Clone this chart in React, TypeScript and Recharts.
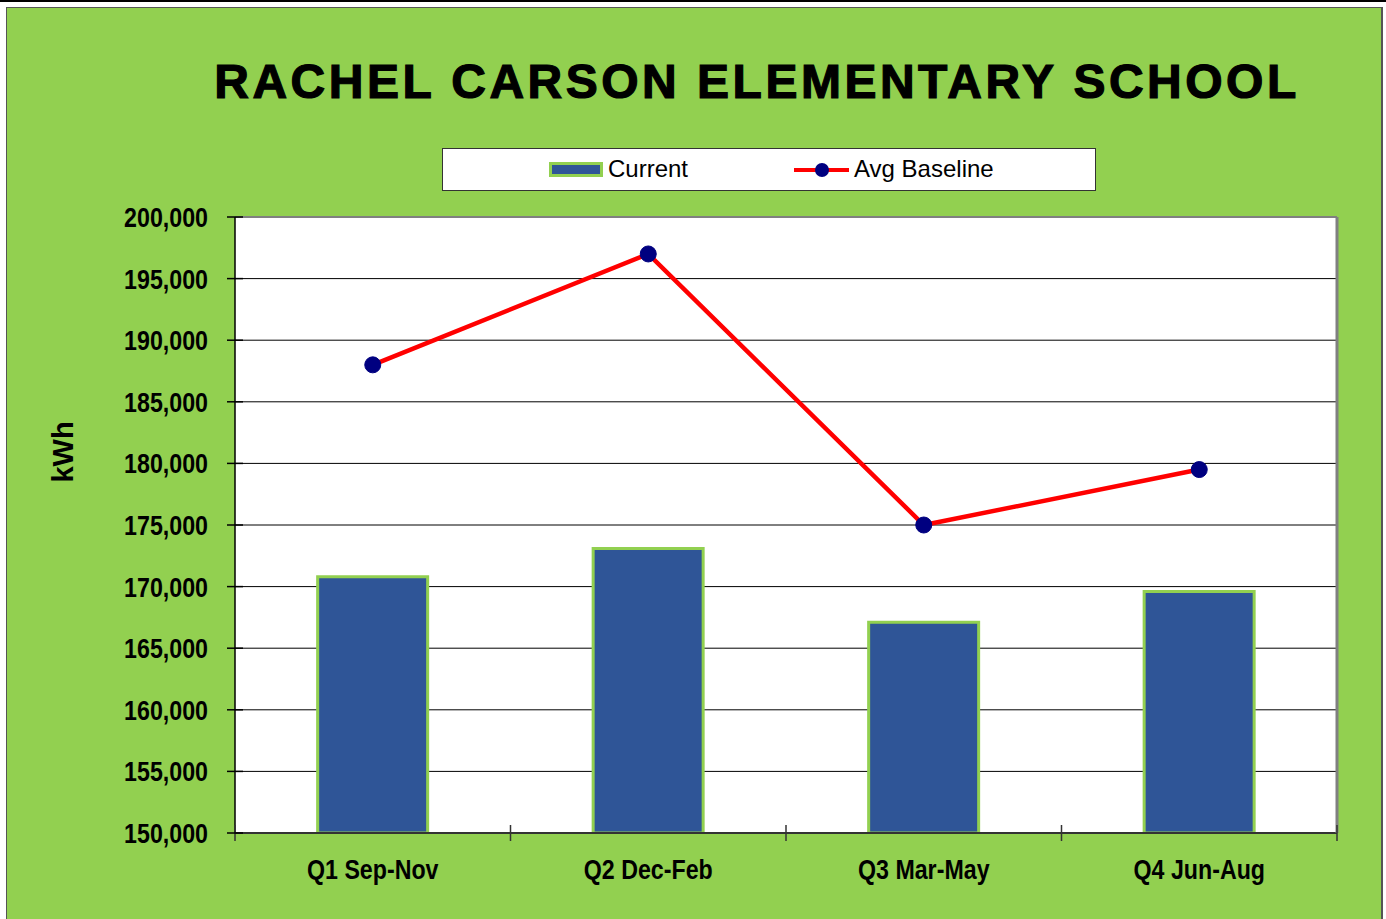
import { Bar, CartesianGrid, ComposedChart, Line, XAxis, YAxis } from 'recharts';

const categories = ['Q1 Sep-Nov', 'Q2 Dec-Feb', 'Q3 Mar-May', 'Q4 Jun-Aug'];
const currentValues = [170800, 173100, 167100, 169600];
const baselineValues = [188000, 197000, 175000, 179500];
const yTicks = [150000, 155000, 160000, 165000, 170000, 175000, 180000, 185000, 190000, 195000, 200000];

const chartData = categories.map((name, i) => ({
  name,
  current: currentValues[i],
  baseline: baselineValues[i],
}));

const tickFont = '"Liberation Sans", Arial, sans-serif';

function YTick(props: any) {
  const { x, y, payload } = props;
  return (
    <g>
      <line x1={x - 8} x2={x + 8} y1={y} y2={y} stroke="#000" strokeWidth={1.5} />
      <text
        transform={`translate(${x - 27},${y + 10}) scale(0.86,1)`}
        textAnchor="end"
        fontFamily={tickFont}
        fontWeight="bold"
        fontSize={27}
        fill="#000"
      >
        {Number(payload.value).toLocaleString('en-US')}
      </text>
    </g>
  );
}

function XTick(props: any) {
  const { x, y, payload, index } = props;
  const half = payload.offset ?? 0;
  return (
    <g>
      <line x1={x - half} x2={x - half} y1={y - 8} y2={y + 8} stroke="#333" strokeWidth={1.5} />
      {index === categories.length - 1 && (
        <line x1={x + half} x2={x + half} y1={y - 8} y2={y + 8} stroke="#333" strokeWidth={1.5} />
      )}
      <text
        transform={`translate(${x},${y + 46}) scale(0.86,1)`}
        textAnchor="middle"
        fontFamily={tickFont}
        fontWeight="bold"
        fontSize={27}
        fill="#000"
      >
        {payload.value}
      </text>
    </g>
  );
}

export default function App() {
  return (
    <div style={{ position: 'fixed', left: 0, top: 0, width: 1386, height: 919, overflow: 'hidden', background: '#fff' }}>
      <div style={{ position: 'absolute', left: 0, top: 0, width: 1386, height: 2, background: '#000' }} />
      <div
        style={{
          position: 'absolute',
          left: 6,
          top: 7,
          width: 1377,
          height: 930,
          boxSizing: 'border-box',
          background: '#92D050',
          border: '1px solid #555',
          borderRightWidth: 2,
        }}
      />
      <div
        style={{
          position: 'absolute',
          left: 0,
          width: 1386,
          paddingLeft: 128,
          boxSizing: 'border-box',
          top: 52,
          textAlign: 'center',
          fontFamily: '"Liberation Sans", Arial, sans-serif',
          fontWeight: 'bold',
          fontSize: 48,
          letterSpacing: 3.5,
          WebkitTextStroke: '1.2px #000',
          color: '#000',
          lineHeight: '60px',
        }}
      >
        RACHEL CARSON ELEMENTARY SCHOOL
      </div>

      {/* legend */}
      <div
        style={{
          position: 'absolute',
          left: 442,
          top: 148,
          width: 654,
          height: 43,
          boxSizing: 'border-box',
          background: '#fff',
          border: '1px solid #333',
          fontFamily: '"Liberation Sans", Arial, sans-serif',
          fontSize: 24,
          color: '#000',
        }}
      >
        <div
          style={{
            position: 'absolute',
            left: 106,
            top: 13,
            width: 54,
            height: 15,
            boxSizing: 'border-box',
            background: '#2F5597',
            border: '3px solid #92D050',
          }}
        />
        <div style={{ position: 'absolute', left: 165, top: 6, lineHeight: '28px' }}>Current</div>
        <svg style={{ position: 'absolute', left: 350, top: 10 }} width={58} height={22}>
          <line x1={1} x2={56} y1={11} y2={11} stroke="#FF0000" strokeWidth={4} />
          <circle cx={29} cy={11} r={7} fill="#000080" />
        </svg>
        <div style={{ position: 'absolute', left: 411, top: 6, lineHeight: '28px' }}>Avg Baseline</div>
      </div>

      <div
        style={{
          position: 'absolute',
          left: 63,
          top: 452,
          transform: 'translate(-50%, -50%) rotate(-90deg)',
          fontFamily: '"Liberation Sans", Arial, sans-serif',
          fontWeight: 'bold',
          fontSize: 29,
          color: '#000',
          whiteSpace: 'nowrap',
        }}
      >
        kWh
      </div>

      <div style={{ position: 'absolute', left: 0, top: 0 }}>
        <ComposedChart
          width={1386}
          height={919}
          data={chartData}
          margin={{ top: 216, right: 48, bottom: 26, left: 0 }}
          barCategoryGap="30%"
        >
          <CartesianGrid vertical={false} stroke="#000" strokeWidth={1} fill="#fff" fillOpacity={1} />
          <XAxis
            dataKey="name"
            height={60}
            interval={0}
            tickSize={0}
            tickMargin={0}
            tickLine={false}
            axisLine={{ stroke: '#333', strokeWidth: 2 }}
            tick={<XTick />}
          />
          <XAxis xAxisId="top" dataKey="name" orientation="top" height={1} tick={false} tickLine={false} axisLine={{ stroke: '#808080', strokeWidth: 2 }} />
          <YAxis
            width={235}
            domain={[150000, 200000]}
            ticks={yTicks}
            interval={0}
            tickSize={0}
            tickMargin={0}
            tickLine={false}
            axisLine={{ stroke: '#000', strokeWidth: 1.5 }}
            tick={<YTick />}
          />
          <YAxis yAxisId="r" orientation="right" width={1} domain={[150000, 200000]} tick={false} tickLine={false} axisLine={{ stroke: '#808080', strokeWidth: 3 }} />
          <Bar dataKey="current" name="Current" fill="#2F5597" stroke="#92D050" strokeWidth={3} isAnimationActive={false} />
          <Line
            dataKey="baseline"
            name="Avg Baseline"
            type="linear"
            stroke="#FF0000"
            strokeWidth={4.5}
            dot={{ r: 8, fill: '#000080', stroke: '#000080', strokeWidth: 1 }}
            activeDot={false}
            isAnimationActive={false}
          />
        </ComposedChart>
      </div>
    </div>
  );
}
